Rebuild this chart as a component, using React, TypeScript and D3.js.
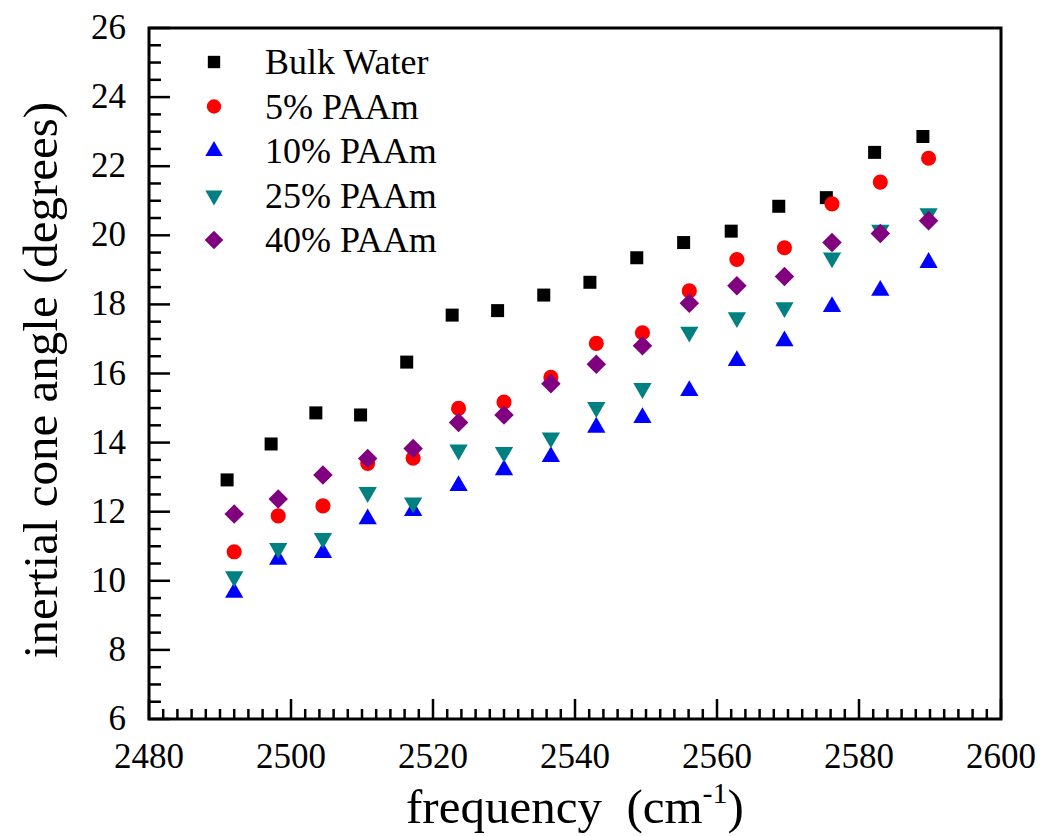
import React from 'react';
import * as d3 from 'd3';

// frequencies (cm-1)
const bulkFreq = [2491.0, 2497.2, 2503.5, 2509.8, 2516.3, 2522.7, 2529.1, 2535.6, 2542.1, 2548.7, 2555.3, 2562.0, 2568.7, 2575.4, 2582.2, 2589.0];
const gelFreq = [2492.0, 2498.2, 2504.5, 2510.8, 2517.2, 2523.6, 2530.0, 2536.6, 2543.0, 2549.5, 2556.1, 2562.8, 2569.5, 2576.2, 2583.0, 2589.8];

// cone angles (degrees)
const bulkWater = [12.92, 13.96, 14.86, 14.80, 16.33, 17.69, 17.82, 18.27, 18.64, 19.35, 19.79, 20.12, 20.84, 21.09, 22.40, 22.86];
const paam5 = [10.84, 11.88, 12.17, 13.40, 13.55, 14.99, 15.17, 15.89, 16.87, 17.18, 18.39, 19.30, 19.64, 20.91, 21.54, 22.23];
const paam10 = [9.66, 10.62, 10.81, 11.79, 12.03, 12.75, 13.21, 13.59, 14.44, 14.72, 15.50, 16.37, 16.94, 17.93, 18.40, 19.21];
const paam25 = [10.12, 10.94, 11.23, 12.56, 12.26, 13.79, 13.72, 14.14, 15.02, 15.57, 17.20, 17.62, 17.91, 19.35, 20.15, 20.63];
const paam40 = [11.93, 12.37, 13.06, 13.54, 13.83, 14.58, 14.80, 15.70, 16.27, 16.80, 18.03, 18.54, 18.81, 19.79, 20.05, 20.42];

const xTicks = [2480, 2500, 2520, 2540, 2560, 2580, 2600];
const yTicks = [6, 8, 10, 12, 14, 16, 18, 20, 22, 24, 26];

const series = [
  { name: 'Bulk Water', x: bulkFreq, y: bulkWater, color: '#000000', type: 'square' },
  { name: '5% PAAm', x: gelFreq, y: paam5, color: '#FF0000', type: 'circle' },
  { name: '10% PAAm', x: gelFreq, y: paam10, color: '#0000FF', type: 'up' },
  { name: '25% PAAm', x: gelFreq, y: paam25, color: '#008080', type: 'down' },
  { name: '40% PAAm', x: gelFreq, y: paam40, color: '#800080', type: 'diamond' },
];

const W = 1041;
const H = 836;
const margin = { left: 149, right: 40, top: 28, bottom: 117 };
const font = '"Times New Roman", "Liberation Serif", serif';

function symbolPath(type: string) {
  if (type === 'square') return d3.symbol(d3.symbolSquare, 169)();
  if (type === 'circle') return d3.symbol(d3.symbolCircle, 180)();
  if (type === 'up' || type === 'down') return d3.symbol(d3.symbolTriangle, 145)();
  return d3.symbol(d3.symbolSquare, 190)();
}
function symbolRotate(type: string) {
  if (type === 'down') return ' rotate(180)';
  if (type === 'diamond') return ' rotate(45)';
  return '';
}

export default function App() {
  const x = d3.scaleLinear().domain([2480, 2600]).range([margin.left, W - margin.right]);
  const y = d3.scaleLinear().domain([6, 26]).range([H - margin.bottom, margin.top]);
  const x0 = x.range()[0], x1 = x.range()[1];
  const y0 = y.range()[0], y1 = y.range()[1];

  const xMinor = d3.range(2480, 2601, 2).filter(v => v % 20 !== 0);
  const yMinor = d3.range(6, 26.01, 0.5).filter(v => v % 2 !== 0);

  return (
    <svg width={W} height={H} style={{ position: 'absolute', left: 0, top: 0, background: '#fff', fontFamily: font }}>
      {/* ticks */}
      {xMinor.map(v => (
        <line key={'xm' + v} x1={x(v)} x2={x(v)} y1={y0} y2={y0 - 10} stroke="#000" strokeWidth={2.5} />
      ))}
      {xTicks.map(v => (
        <line key={'xM' + v} x1={x(v)} x2={x(v)} y1={y0} y2={y0 - 20} stroke="#000" strokeWidth={2.5} />
      ))}
      {yMinor.map(v => (
        <line key={'ym' + v} x1={x0} x2={x0 + 12} y1={y(v)} y2={y(v)} stroke="#000" strokeWidth={2.5} />
      ))}
      {yTicks.map(v => (
        <line key={'yM' + v} x1={x0} x2={x0 + 21} y1={y(v)} y2={y(v)} stroke="#000" strokeWidth={2.5} />
      ))}
      {/* frame */}
      <rect x={x0} y={y1} width={x1 - x0} height={y0 - y1} fill="none" stroke="#000" strokeWidth={3} />

      {/* tick labels */}
      {xTicks.map(v => (
        <text key={'xl' + v} x={x(v)} y={y0 + 49} textAnchor="middle" fontSize={35}>{v}</text>
      ))}
      {yTicks.map(v => (
        <text key={'yl' + v} x={x0 - 23} y={y(v) + 11} textAnchor="end" fontSize={35}>{v}</text>
      ))}

      {/* axis titles */}
      <text x={(x0 + x1) / 2} y={823} textAnchor="middle" fontSize={49} xmlSpace="preserve">
        {'frequency  (cm'}<tspan dy={-20} fontSize={30}>-1</tspan><tspan dy={20}>)</tspan>
      </text>
      <text transform={`translate(57, 380) rotate(-90)`} textAnchor="middle" fontSize={49}>
        inertial cone angle (degrees)
      </text>

      {/* data */}
      {series.map(s => (
        <g key={s.name}>
          {s.y.map((v, i) => (
            <path key={i} d={symbolPath(s.type) || ''} fill={s.color}
              transform={`translate(${x(s.x[i])},${y(v)})${symbolRotate(s.type)}`} />
          ))}
        </g>
      ))}

      {/* legend */}
      {series.map((s, i) => (
        <g key={'lg' + s.name} transform={`translate(214, ${62 + i * 44.5})`}>
          <path d={symbolPath(s.type) || ''} fill={s.color} transform={`scale(0.95)${symbolRotate(s.type)}`} />
          <text x={51} y={12} fontSize={36}>{s.name}</text>
        </g>
      ))}
    </svg>
  );
}
